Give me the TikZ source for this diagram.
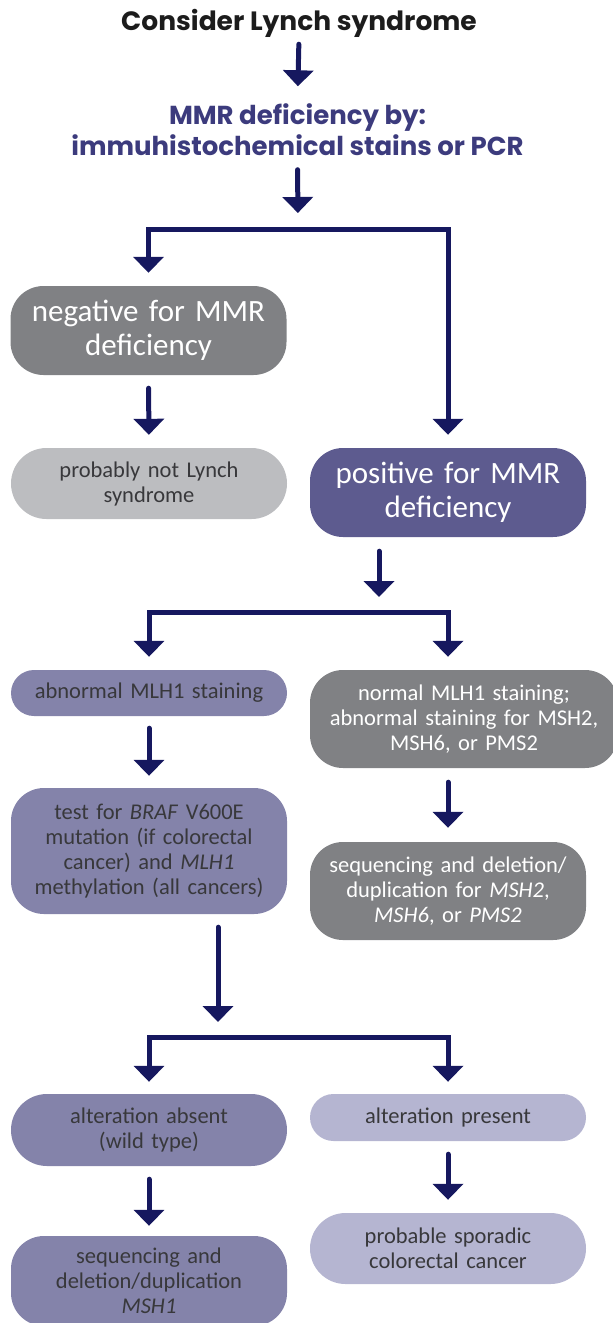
\documentclass[tikz,border=0pt]{standalone}
\usepackage{fontspec}
\setmainfont{Carlito}
\newfontfamily\headfont{Poppins}
\usetikzlibrary{arrows.meta}
\definecolor{navy}{HTML}{16185F}
\definecolor{mmrblue}{HTML}{3C3B7D}
\definecolor{titleblack}{HTML}{1C1C1C}
\definecolor{boxgray}{HTML}{808184}
\definecolor{boxlgray}{HTML}{BCBDC0}
\definecolor{boxpos}{HTML}{5D5B8F}
\definecolor{boxmid}{HTML}{8483AA}
\definecolor{boxlight}{HTML}{B5B5D1}
\definecolor{txtdark}{HTML}{38383B}
\begin{document}
\begin{tikzpicture}[x=1pt,y=-1pt,
  conn/.style={draw=navy, line width=5pt, line cap=round, line join=miter},
  arr/.style={conn, -{Triangle[width=30pt,length=16pt]}},
  box/.style={rectangle, inner sep=0pt, align=center, minimum width=276pt, text width=266pt},
  bigtxt/.style={font=\fontsize{31}{34.5}\selectfont, text=white},
  smalltxt/.style={font=\fontsize{22.5}{25}\selectfont, text=txtdark},
  smallwhite/.style={font=\fontsize{22.5}{25}\selectfont, text=white},
  graybox/.style={box, fill=boxgray},
  lgraybox/.style={box, fill=boxlgray},
  posbox/.style={box, fill=boxpos},
  midbox/.style={box, fill=boxmid},
  lightbox/.style={box, fill=boxlight}
]
\useasboundingbox (0,0) rectangle (613,1323);

% headings
\node[font=\headfont\bfseries\fontsize{26.5}{30}\selectfont, text=titleblack, inner sep=0pt, anchor=base] (title) at (299,30) {Consider Lynch syndrome};
\node[font=\headfont\bfseries\fontsize{26}{31}\selectfont, text=mmrblue, align=center, inner sep=0pt] (mmr) at (297.5,129.5) {MMR deficiency by:\\immuhistochemical stains or PCR};

% boxes
\node[graybox, bigtxt, minimum height=89pt, rounded corners=33pt] (neg) at (148.5,330.5) {negative for MMR\\deficiency};
\node[lgraybox, smalltxt, minimum height=71pt, rounded corners=35.5pt] (notl) at (149,483.5) {probably not Lynch\\syndrome};
\node[posbox, bigtxt, minimum height=89pt, rounded corners=33pt] (pos) at (448,492.5) {positive for MMR\\deficiency};
\node[midbox, smalltxt, minimum height=46pt, rounded corners=23pt] (abn) at (149,693) {abnormal MLH1 staining};
\node[graybox, smallwhite, minimum width=308pt, text width=298pt, minimum height=98pt, rounded corners=33pt] (norm) at (464,719) {normal MLH1 staining;\\abnormal staining for MSH2,\\MSH6, or PMS2};
\node[midbox, smalltxt, minimum height=126pt, rounded corners=33pt] (test) at (149,851) {test for \textit{BRAF} V600E\\mutation (if colorectal\\cancer) and \textit{MLH1}\\methylation (all cancers)};
\node[graybox, smallwhite, minimum height=98pt, rounded corners=33pt] (seq) at (448,891) {sequencing and deletion/\\duplication for \textit{MSH2},\\\textit{MSH6}, or \textit{PMS2}};
\node[midbox, smalltxt, minimum height=72pt, rounded corners=36pt] (absent) at (149,1130) {alteration absent\\(wild type)};
\node[lightbox, smalltxt, minimum height=47pt, rounded corners=23.5pt] (present) at (448,1117.5) {alteration present};
\node[midbox, smalltxt, minimum height=90pt, rounded corners=33pt] (msh1) at (149,1281) {sequencing and\\deletion/duplication\\\textit{MSH1}};
\node[lightbox, smalltxt, minimum height=71pt, rounded corners=35.5pt] (prob) at (448,1248.5) {probable sporadic\\colorectal cancer};

% branch points
\coordinate (b1) at (298,229.5);
\coordinate (b2) at (379,612.5);
\coordinate (b3) at (218,1037.5);

% connectors
\draw[arr, shorten <=7pt, shorten >=17pt] (title.south) -- (mmr.north);
\draw[arr, shorten <=14pt, shorten >=16.5pt] (mmr.south) -- (b1);
\draw[arr, shorten >=13pt] (b1) -| (neg.north);
\draw[arr, shorten >=13pt] (b1) -| (pos.north);
\draw[arr, shorten <=13pt, shorten >=13pt] (neg.south) -- (notl.north);
\draw[arr, shorten <=14pt, shorten >=15.5pt] (pos.south -| b2) -- (b2);
\draw[arr, shorten >=13pt] (b2) -| (abn.north);
\draw[arr, shorten >=13pt] (b2) -| (pos.south |- norm.north);
\draw[arr, shorten <=12pt, shorten >=12pt] (abn.south) -- (test.north);
\draw[arr, shorten <=14pt, shorten >=14pt] (seq.north |- norm.south) -- (seq.north);
\draw[arr, shorten <=13pt, shorten >=15.5pt] (test.south -| b3) -- (b3);
\draw[arr, shorten >=12pt] (b3) -| (absent.north);
\draw[arr, shorten >=12pt] (b3) -| (present.north);
\draw[arr, shorten <=13pt, shorten >=10pt] (absent.south) -- (msh1.north);
\draw[arr, shorten <=13pt, shorten >=13pt] (present.south) -- (prob.north);
\end{tikzpicture}
\end{document}
